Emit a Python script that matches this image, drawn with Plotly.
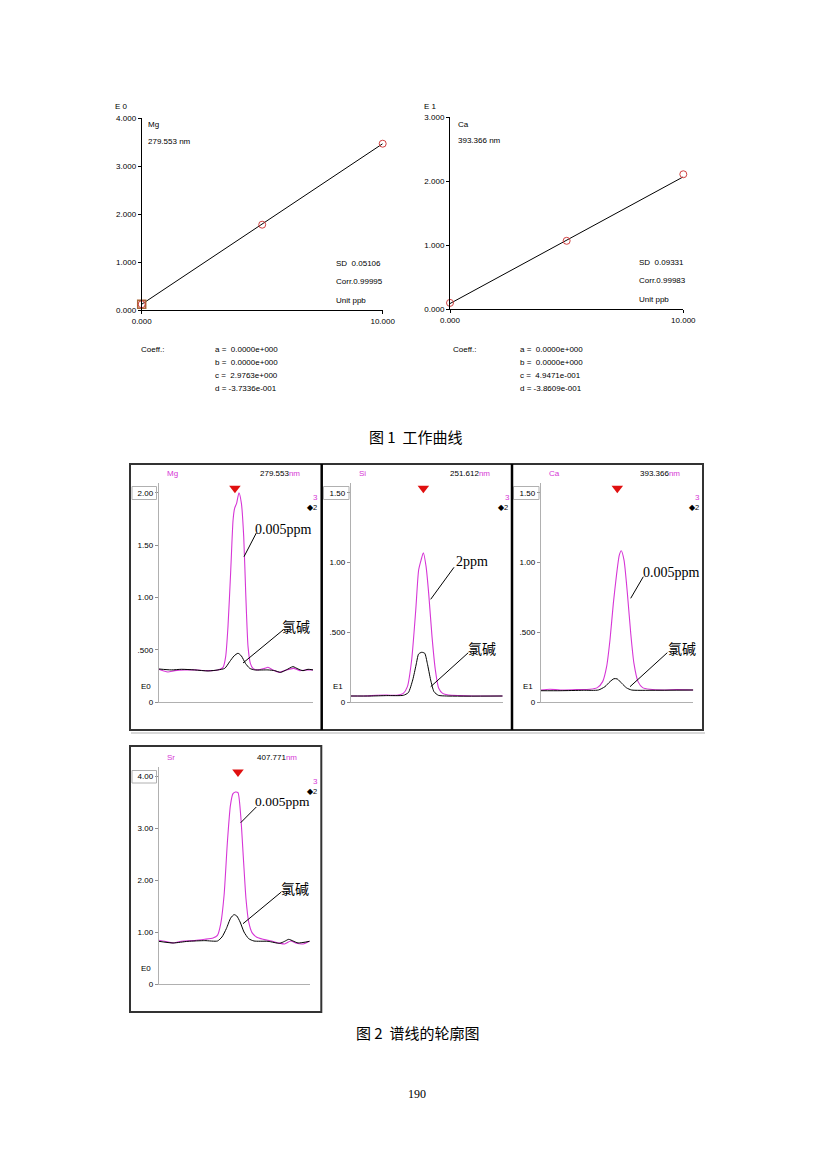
import plotly.graph_objects as go

W, H = 826, 1169
OX, OY = 8, 8              # page body margin of the html page
FW, FH = W - 2 * OX, H - 2 * OY

# ---------------- data ----------------
# Calibration curves (Fig. 1)
mg_cal_conc = [0, 5, 10]
mg_cal_int = [0.12, 1.78, 3.47]
mg_line_x = [0, 10]
mg_line_y = [0.12, 3.47]
ca_cal_conc = [0, 5, 10]
ca_cal_int = [0.10, 1.07, 2.11]
ca_line_x = [0, 10]
ca_line_y = [0.09, 2.07]

# Spectral profiles (Fig. 2), x = relative wavelength position (0-100)
mg_x_std = [0, 2.8, 6.0, 10.4, 16.8, 23.3, 32.0, 38.4, 41.7, 43.4, 44.9, 46.7, 48.2, 49.2, 50.5, 52.0,
            53.6, 55.1, 56.4, 57.9, 59.4, 61.1, 64.4, 68.7, 70.8, 74.1, 78.4, 82.7, 87.5, 91.4, 95.7, 100]
mg_y_std = [0.315, 0.302, 0.289, 0.302, 0.309, 0.309, 0.302, 0.309, 0.334, 0.436, 0.722, 1.263, 1.740,
            1.851, 1.899, 2.000, 1.899, 1.581, 1.040, 0.531, 0.372, 0.324, 0.309, 0.324, 0.334, 0.309,
            0.286, 0.309, 0.324, 0.302, 0.309, 0.309]
mg_x_blk = [0, 8.2, 14.7, 23.3, 32.0, 38.4, 42.8, 46.0, 48.8, 51.4, 53.6, 56.2, 59.0, 62.2, 70.8, 75.2,
            79.0, 82.7, 87.0, 90.3, 93.5, 96.8, 100]
mg_y_blk = [0.318, 0.309, 0.315, 0.309, 0.299, 0.309, 0.324, 0.388, 0.442, 0.468, 0.442, 0.372, 0.324,
            0.309, 0.309, 0.302, 0.286, 0.309, 0.340, 0.318, 0.302, 0.315, 0.309]

si_x_std = [0, 8.3, 17.1, 23.7, 30.3, 34.6, 37.3, 40.1, 42.8, 44.7, 46.3, 47.8, 49.6, 51.3, 53.5, 55.7,
            57.9, 60.5, 64.3, 71.9, 80.7, 89.5, 100]
si_y_std = [0.045, 0.045, 0.050, 0.052, 0.050, 0.064, 0.112, 0.303, 0.661, 0.947, 1.018, 1.071, 0.971,
            0.780, 0.470, 0.231, 0.100, 0.064, 0.052, 0.048, 0.045, 0.045, 0.045]
si_x_blk = [0, 12.7, 23.7, 34.6, 37.9, 40.8, 43.0, 44.7, 46.7, 48.7, 50.4, 52.6, 54.8, 57.7, 63.2, 100]
si_y_blk = [0.045, 0.045, 0.048, 0.050, 0.069, 0.160, 0.267, 0.346, 0.358, 0.351, 0.279, 0.160, 0.076,
            0.050, 0.045, 0.045]

ca_x_std = [0, 6.1, 12.7, 23.6, 32.3, 37.1, 40.6, 43.2, 45.4, 47.6, 49.8, 51.5, 52.8, 54.6, 56.8, 59.0,
            61.1, 63.8, 66.8, 71.6, 80.3, 89.1, 100]
ca_y_std = [0.088, 0.093, 0.088, 0.091, 0.093, 0.105, 0.148, 0.255, 0.446, 0.708, 0.923, 1.054, 1.085,
            1.018, 0.780, 0.494, 0.279, 0.148, 0.105, 0.093, 0.088, 0.091, 0.088]
ca_x_blk = [0, 12.7, 27.9, 37.8, 42.1, 45.4, 48.0, 50.2, 53.1, 56.3, 59.6, 71.6, 100]
ca_y_blk = [0.083, 0.083, 0.086, 0.088, 0.112, 0.148, 0.169, 0.167, 0.136, 0.103, 0.088, 0.086, 0.088]

sr_x_std = [0, 4.0, 9.5, 15.0, 23.8, 30.5, 36.0, 38.9, 41.1, 43.3, 45.5, 47.5, 49.2, 50.8, 52.5, 54.3,
            56.1, 57.8, 59.6, 61.8, 64.7, 69.1, 74.6, 79.5, 83.4, 87.4, 91.2, 95.6, 100]
sr_y_std = [0.846, 0.827, 0.795, 0.827, 0.840, 0.865, 0.891, 0.942, 1.167, 1.712, 2.737, 3.442, 3.667,
            3.699, 3.686, 3.250, 2.417, 1.647, 1.199, 0.994, 0.910, 0.865, 0.833, 0.795, 0.776, 0.833,
            0.788, 0.776, 0.833]
sr_x_blk = [0, 9.5, 19.4, 30.5, 38.9, 41.9, 44.8, 47.7, 49.9, 51.7, 53.9, 56.5, 59.6, 63.1, 72.4, 80.1,
            83.4, 86.1, 89.0, 92.3, 100]
sr_y_blk = [0.827, 0.795, 0.827, 0.840, 0.833, 0.910, 1.071, 1.276, 1.340, 1.314, 1.199, 1.006, 0.878,
            0.833, 0.827, 0.788, 0.827, 0.865, 0.833, 0.795, 0.827]

# marker positions (peak window / background points)
mg_peak_mark = 49.4; mg_bg_marks = [32.0, 79.0]
si_peak_mark = 47.8; si_bg_marks = [5.0, 87.3]
ca_peak_mark = 50.2; ca_bg_marks = [22.9, 78.2]
sr_peak_mark = 52.5; sr_bg_marks = [10.2, 80.1]

MAG = "#d636d6"
SANS = "Liberation Sans, Arial, sans-serif"
SERIF = "Liberation Serif, Times New Roman, serif"
CJK = "Noto Sans CJK SC"


def px(x):
    return (x - OX) / FW


def py(y):
    return 1 - (y - OY) / FH


fig = go.Figure()
layout = dict(template="none", width=FW, height=FH, margin=dict(l=0, r=0, t=0, b=0, pad=0), showlegend=False,
              paper_bgcolor="white", plot_bgcolor="rgba(0,0,0,0)",
              font=dict(family=SANS, color="black", size=8))
annotations = []
shapes = []


def add_axes(n, xdom_px, ydom_px, xrange, yrange, xaxis_extra, yaxis_extra):
    xk = "xaxis" if n == 1 else f"xaxis{n}"
    yk = "yaxis" if n == 1 else f"yaxis{n}"
    xa = dict(domain=[px(xdom_px[0]), px(xdom_px[1])], range=xrange, anchor=f"y{'' if n == 1 else n}",
              showgrid=False, zeroline=False, fixedrange=True, automargin=False)
    ya = dict(domain=[py(ydom_px[0]), py(ydom_px[1])], range=yrange, anchor=f"x{'' if n == 1 else n}",
              showgrid=False, zeroline=False, fixedrange=True, automargin=False)
    xa.update(xaxis_extra)
    ya.update(yaxis_extra)
    layout[xk] = xa
    layout[yk] = ya
    return ("x" if n == 1 else f"x{n}"), ("y" if n == 1 else f"y{n}")


def text(x, y, s, size=8, color="black", font=SANS, xanchor="left"):
    annotations.append(dict(x=px(x), y=py(y), xref="paper", yref="paper", text=s, showarrow=False,
                            xanchor=xanchor, yanchor="middle", font=dict(size=size, color=color, family=font)))


def line(x0, y0, x1, y1, color="black", width=1):
    shapes.append(dict(type="line", xref="paper", yref="paper", x0=px(x0), y0=py(y0), x1=px(x1), y1=py(y1),
                       line=dict(color=color, width=width)))


def rect(x0, y0, x1, y1, color="black", width=1, fill="rgba(0,0,0,0)"):
    shapes.append(dict(type="rect", xref="paper", yref="paper", x0=px(x0), y0=py(y0), x1=px(x1), y1=py(y1),
                       line=dict(color=color, width=width), fillcolor=fill))


# ---------------- Fig 1: calibration ----------------
cal_x = dict(showline=True, linecolor="black", linewidth=1, ticks="outside", ticklen=3, tickcolor="black",
             tickvals=[0, 10], ticktext=["0.000", "10.000"], tickfont=dict(size=8, family=SANS, color="black"))


def cal_y(vals):
    return dict(showline=True, linecolor="black", linewidth=1, ticks="outside", ticklen=3, tickcolor="black",
                tickvals=vals, ticktext=[f"{v:.3f}" for v in vals],
                tickfont=dict(size=8, family=SANS, color="black"))


xa, ya = add_axes(1, (141.7, 382.7), (310, 118.3), [0, 10], [0, 4], cal_x, cal_y([0, 1, 2, 3, 4]))
fig.add_trace(go.Scatter(x=mg_line_x, y=mg_line_y, mode="lines", line=dict(color="black", width=1),
                         xaxis=xa, yaxis=ya, cliponaxis=False))
fig.add_trace(go.Scatter(x=mg_cal_conc[:1], y=mg_cal_int[:1], mode="markers",
                         marker=dict(symbol="square-open", size=8, color="#a8683a", line=dict(width=1.5)),
                         xaxis=xa, yaxis=ya, cliponaxis=False))
fig.add_trace(go.Scatter(x=mg_cal_conc, y=mg_cal_int, mode="markers",
                         marker=dict(symbol="circle-open", size=7, color="#d04040", line=dict(width=1)),
                         xaxis=xa, yaxis=ya, cliponaxis=False))
text(121.5, 106.5, "E 0", xanchor="center")
text(145.5, 124.5, "Mg")
text(145.5, 141.5, "279.553 nm", size=8)
text(333.5, 264, "SD  0.05106", size=8)
text(333.5, 282, "Corr.0.99995", size=8)
text(333.5, 300, "Unit ppb", size=8)
text(139, 349, "Coeff.:", size=8)
text(213, 349, "a =  0.0000e+000", size=8)
text(213, 362.5, "b =  0.0000e+000", size=8)
text(213, 375.5, "c =  2.9763e+000", size=8)
text(213, 388, "d = -3.7336e-001", size=8)

xa, ya = add_axes(2, (450, 683.3), (309.3, 117.3), [0, 10], [0, 3], cal_x, cal_y([0, 1, 2, 3]))
fig.add_trace(go.Scatter(x=ca_line_x, y=ca_line_y, mode="lines", line=dict(color="black", width=1),
                         xaxis=xa, yaxis=ya, cliponaxis=False))
fig.add_trace(go.Scatter(x=ca_cal_conc, y=ca_cal_int, mode="markers",
                         marker=dict(symbol="circle-open", size=7, color="#d04040", line=dict(width=1)),
                         xaxis=xa, yaxis=ya, cliponaxis=False))
text(430, 106.5, "E 1", xanchor="center")
text(455.5, 124.5, "Ca")
text(455.5, 140.5, "393.366 nm", size=8)
text(637, 263, "SD  0.09331", size=8)
text(637, 281, "Corr.0.99983", size=8)
text(637, 299, "Unit ppb", size=8)
text(451, 349, "Coeff.:", size=8)
text(518, 349, "a =  0.0000e+000", size=8)
text(518, 362, "b =  0.0000e+000", size=8)
text(518, 375, "c =  4.9471e-001", size=8)
text(518, 388, "d = -3.8609e-001", size=8)

text(415, 436, "图 1  工作曲线", size=15, font=CJK, xanchor="center")

# ---------------- Fig 2: spectral profiles ----------------
spec_x = dict(showline=True, linecolor="#b0b0b0", linewidth=1, ticks="", showticklabels=False)


def spec_y(vals, labels):
    return dict(showline=True, linecolor="#b0b0b0", linewidth=1, ticks="outside", ticklen=3,
                tickcolor="#909090", tickvals=vals, ticktext=labels,
                tickfont=dict(size=8, family=SANS, color="black"))


panels = [
    dict(n=3, el="Mg", wl="279.553", xd=(158.7, 313), y0=702.3, ytop=483.3, ymax=2.09,
         ticks=[0, 0.5, 1, 1.5, 2], labels=["0", ".500", "1.00", "1.50", "2.00"], E="E0",
         xs=mg_x_std, ys=mg_y_std, xb=mg_x_blk, yb=mg_y_blk, pk=mg_peak_mark, bg=mg_bg_marks,
         box=(132, 486.5, 156.5, 499.5), left=130),
    dict(n=4, el="Si", wl="251.612", xd=(350.7, 502.7), y0=702.3, ytop=483.3, ymax=1.568,
         ticks=[0, 0.5, 1, 1.5], labels=["0", ".500", "1.00", "1.50"], E="E1",
         xs=si_x_std, ys=si_y_std, xb=si_x_blk, yb=si_y_blk, pk=si_peak_mark, bg=si_bg_marks,
         box=(323.5, 486.5, 349, 499.5), left=321.7),
    dict(n=5, el="Ca", wl="393.366", xd=(540.7, 693.3), y0=702.3, ytop=483.3, ymax=1.568,
         ticks=[0, 0.5, 1, 1.5], labels=["0", ".500", "1.00", "1.50"], E="E1",
         xs=ca_x_std, ys=ca_y_std, xb=ca_x_blk, yb=ca_y_blk, pk=ca_peak_mark, bg=ca_bg_marks,
         box=(513.5, 486.5, 539, 499.5), left=512),
    dict(n=6, el="Sr", wl="407.771", xd=(158.7, 309.7), y0=984.3, ytop=767, ymax=4.18,
         ticks=[0, 1, 2, 3, 4], labels=["0", "1.00", "2.00", "3.00", "4.00"], E="E0",
         xs=sr_x_std, ys=sr_y_std, xb=sr_x_blk, yb=sr_y_blk, pk=sr_peak_mark, bg=sr_bg_marks,
         box=(132, 770.5, 156.5, 783), left=130),
]

for p in panels:
    xa, ya = add_axes(p["n"], p["xd"], (p["y0"], p["ytop"]), [0, 100], [0, p["ymax"]], spec_x,
                      spec_y(p["ticks"], p["labels"]))
    scale = (p["y0"] - p["ytop"]) / p["ymax"]  # px per unit
    fig.add_trace(go.Scatter(x=p["xs"], y=p["ys"], mode="lines",
                             line=dict(color=MAG, width=1.1, shape="spline", smoothing=0.6),
                             xaxis=xa, yaxis=ya))
    fig.add_trace(go.Scatter(x=p["xb"], y=p["yb"], mode="lines",
                             line=dict(color="black", width=1, shape="spline", smoothing=0.6),
                             xaxis=xa, yaxis=ya))
    # peak marker (red) and background markers (black)
    fig.add_trace(go.Scatter(x=[p["pk"]], y=[(p["y0"] - (p["ytop"] + 5)) / scale], mode="markers",
                             marker=dict(symbol="triangle-down", size=10, color="#e01010"),
                             xaxis=xa, yaxis=ya, cliponaxis=False))
    fig.add_trace(go.Scatter(x=p["bg"], y=[-4.4 / scale] * 2, mode="markers",
                             marker=dict(symbol="triangle-up", size=9, color="black"),
                             xaxis=xa, yaxis=ya, cliponaxis=False))
    L = p["left"]
    hy = p["ytop"] - 10  # header y
    text(L + 35, hy, p["el"], size=8, color=MAG)
    text(p["xd"][1] - 11, hy, f"{p['wl']}<span style='color:{MAG}'>nm</span>", size=8,
         xanchor="right")
    text(L + 185.5, p["ytop"] + 14, "3", size=8, color=MAG, xanchor="center")
    text(L + 188.5, p["ytop"] + 24.5, "◆2", size=7.5, xanchor="right")
    text(L + 9, p["y0"] - 16, p["E"], size=8)
    rect(*p["box"], color="#b0b0b0", width=1)

# frames
rect(130, 464, 703, 730, color="#333333", width=2)
line(321.7, 464, 321.7, 730, color="black", width=2.5)
line(512, 464, 512, 730, color="black", width=2.5)
line(131, 733, 705, 733, color="#d8d8d8", width=2)
rect(130, 746, 321.3, 1012, color="#333333", width=2)

# callouts
text(253, 529, "0.005ppm", size=14, font=SERIF)
line(256.3, 533, 244, 556.7)
text(280, 626, "氯碱", size=14, font=CJK)
line(283, 630, 243, 663)

text(454, 561.7, "2ppm", size=14, font=SERIF)
line(454, 567.3, 430.7, 599.3)
text(466, 648, "氯碱", size=14, font=CJK)
line(468.3, 652.7, 430.7, 686.7)

text(641, 572.7, "0.005ppm", size=14, font=SERIF)
line(643.3, 576.7, 630.7, 598.3)
text(666, 648.3, "氯碱", size=14, font=CJK)
line(667.3, 652.7, 630, 686.7)

text(253, 801.5, "0.005ppm", size=13.5, font=SERIF)
line(256.3, 807, 240.7, 822.7)
text(279, 887.7, "氯碱", size=14, font=CJK)
line(281.3, 892, 243, 923.7)

text(417, 1032, "图 2  谱线的轮廓图", size=15, font=CJK, xanchor="center")
text(417, 1094, "190", size=12, font=SERIF, xanchor="center")

layout["annotations"] = annotations
layout["shapes"] = shapes
fig.update_layout(**layout)
fig.write_html("out.html")
